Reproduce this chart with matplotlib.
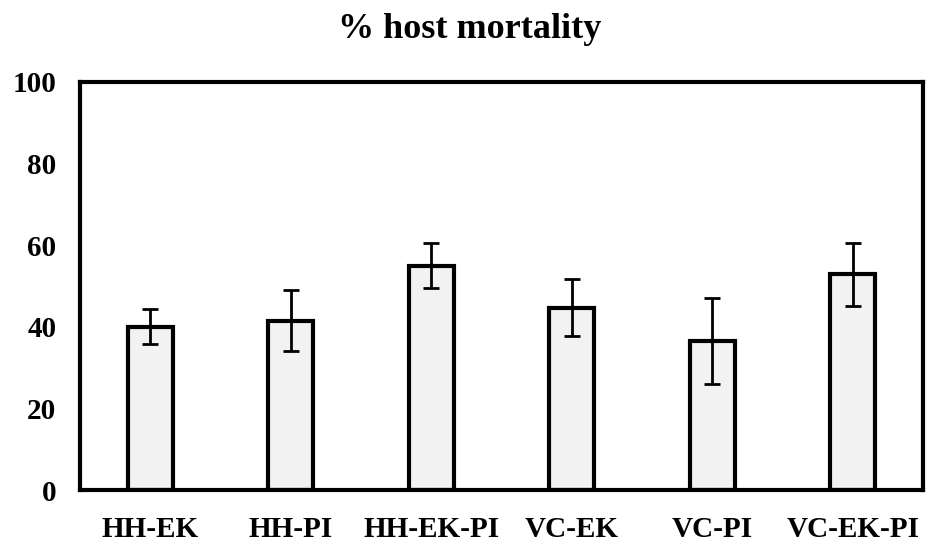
import numpy as np
import matplotlib
matplotlib.use("Agg")
import matplotlib.pyplot as plt

treatments = ["HH-EK", "HH-PI", "HH-EK-PI", "VC-EK", "VC-PI", "VC-EK-PI"]
mortality = [40.0, 41.5, 55.0, 44.7, 36.5, 52.9]
mortality_err = [4.3, 7.5, 5.6, 7.0, 10.5, 7.7]

plt.rcParams['font.family'] = ['Liberation Serif', 'DejaVu Serif']
plt.rcParams['font.weight'] = 'bold'

fig = plt.figure(figsize=(9.26, 5.43), dpi=100)
ax = fig.add_axes([0.0864, 0.0976, 0.9104, 0.7514])

x = np.arange(len(treatments))
ax.bar(x, mortality, width=0.32, color='#f2f2f2', edgecolor='black',
       linewidth=3, zorder=2)
ax.errorbar(x, mortality, yerr=mortality_err, fmt='none', ecolor='black',
            elinewidth=2, capsize=6, capthick=2, zorder=3)

ax.set_xlim(-0.5, len(treatments) - 0.5)
ax.set_ylim(0, 100)
ax.set_yticks([0, 20, 40, 60, 80, 100])
ax.set_xticks(x)
ax.set_xticklabels(treatments)
ax.tick_params(axis='both', length=0, labelsize=21)
ax.tick_params(axis='y', pad=17)
ax.tick_params(axis='x', pad=19)
for label in ax.get_xticklabels() + ax.get_yticklabels():
    label.set_fontweight('bold')

for spine in ax.spines.values():
    spine.set_linewidth(3)
    spine.set_color('black')

fig.text(0.507, 0.945, "% host mortality", ha='center', va='center',
         fontsize=26, fontweight='bold')

plt.savefig("out.png", dpi=100)
plt.close(fig)
